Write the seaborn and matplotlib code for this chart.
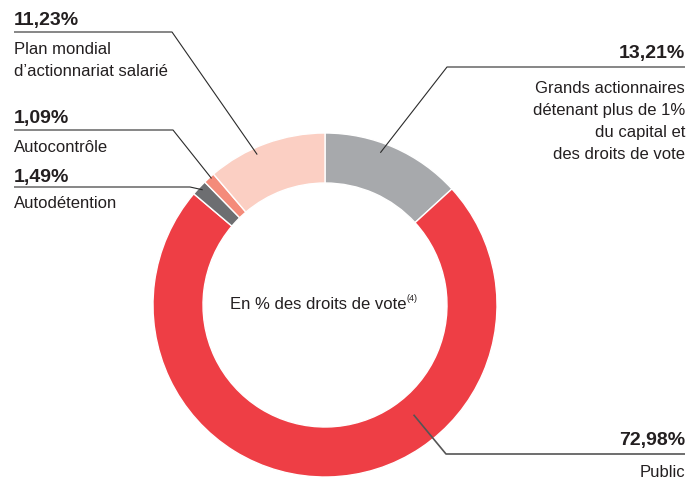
"""
Répartition des droits de vote - graphique en anneau
"""

import numpy as np
import matplotlib
matplotlib.use('Agg')
import matplotlib.pyplot as plt
import seaborn as sns

# Données (ordre horaire depuis le haut)
categories = ['Grands actionnaires\ndétenant plus de 1%\ndu capital et\ndes droits de vote',
              'Public',
              'Autodétention',
              'Autocontrôle',
              "Plan mondial\nd’actionnariat salarié"]
values = [13.21, 72.98, 1.49, 1.09, 11.23]
pct_labels = ['13,21%', '72,98%', '1,49%', '1,09%', '11,23%']
colors = ['#a7a9ac', '#ee3e45', '#6d6e71', '#f48b7a', '#fbcfc3']

sns.set_theme(style='white')
FONT = ['Liberation Sans Narrow', 'Liberation Sans', 'DejaVu Sans']
plt.rcParams['font.family'] = FONT

W, H = 700, 479
CX, CY, R, RIN = 325, 305, 172, 122


def py(y):
    # pixel (haut->bas) vers coordonnées données
    return H - y


fig = plt.figure(figsize=(7.0, 4.79), dpi=100)
ax = fig.add_axes([0, 0, 1, 1])

wedges, _ = ax.pie(values, colors=colors, startangle=90, counterclock=False,
                   center=(CX, py(CY)), radius=R,
                   wedgeprops=dict(width=R - RIN, edgecolor='white', linewidth=1))

# pie() remet les limites : on les fixe après
ax.set_xlim(0, W)
ax.set_ylim(0, H)
ax.set_aspect('equal')
ax.axis('off')

# angles cumulés (sens horaire depuis le haut, en degrés)
cum = np.concatenate([[0], np.cumsum(values)]) / sum(values) * 360

# mise en page des étiquettes : (fraction dans la tranche, rayon, coude, x texte, alignement, y pct, y label)
layout = [
    (0.42, 162, (447, 67), 685, 'right', 58, 93),
    (0.356, 141, (446, 454), 685, 'right', 445, 477),
    (0.56, 168, (190, 187), 14, 'left', 182, 208),
    (0.63, 170, (173, 130), 14, 'left', 123, 152),
    (0.40, 165, (172, 32), 14, 'left', 25, 54),
]

for i, (f, r, elbow, tx, ha, y_pct, y_lab) in enumerate(layout):
    a = np.radians(cum[i] + f * (cum[i + 1] - cum[i]))
    tip = (CX + r * np.sin(a), CY - r * np.cos(a))
    ex, ey = elbow
    lc, lw = ('#555555', 1.2) if i == 1 else ('#2b2b2b', 0.8)
    ax.plot([tx, ex, tip[0]], [py(ey), py(ey), py(tip[1])],
            color=lc, lw=lw, solid_capstyle='butt')
    ax.text(tx, py(y_pct), pct_labels[i], ha=ha, va='baseline',
            fontsize=14, fontweight='bold', color='#231f20')
    for k, line in enumerate(categories[i].split('\n')):
        ax.text(tx, py(y_lab + 22 * k), line, ha=ha, va='baseline',
                fontsize=12, color='#231f20')

main = ax.text(CX - 7, py(309), 'En % des droits de vote', ha='center',
               va='baseline', fontsize=12, color='#231f20')
ax.annotate('(4)', xy=(1, 0.62), xycoords=main, ha='left', va='bottom',
            fontsize=6.5, color='#231f20')

fig.savefig('out.png', dpi=100)
